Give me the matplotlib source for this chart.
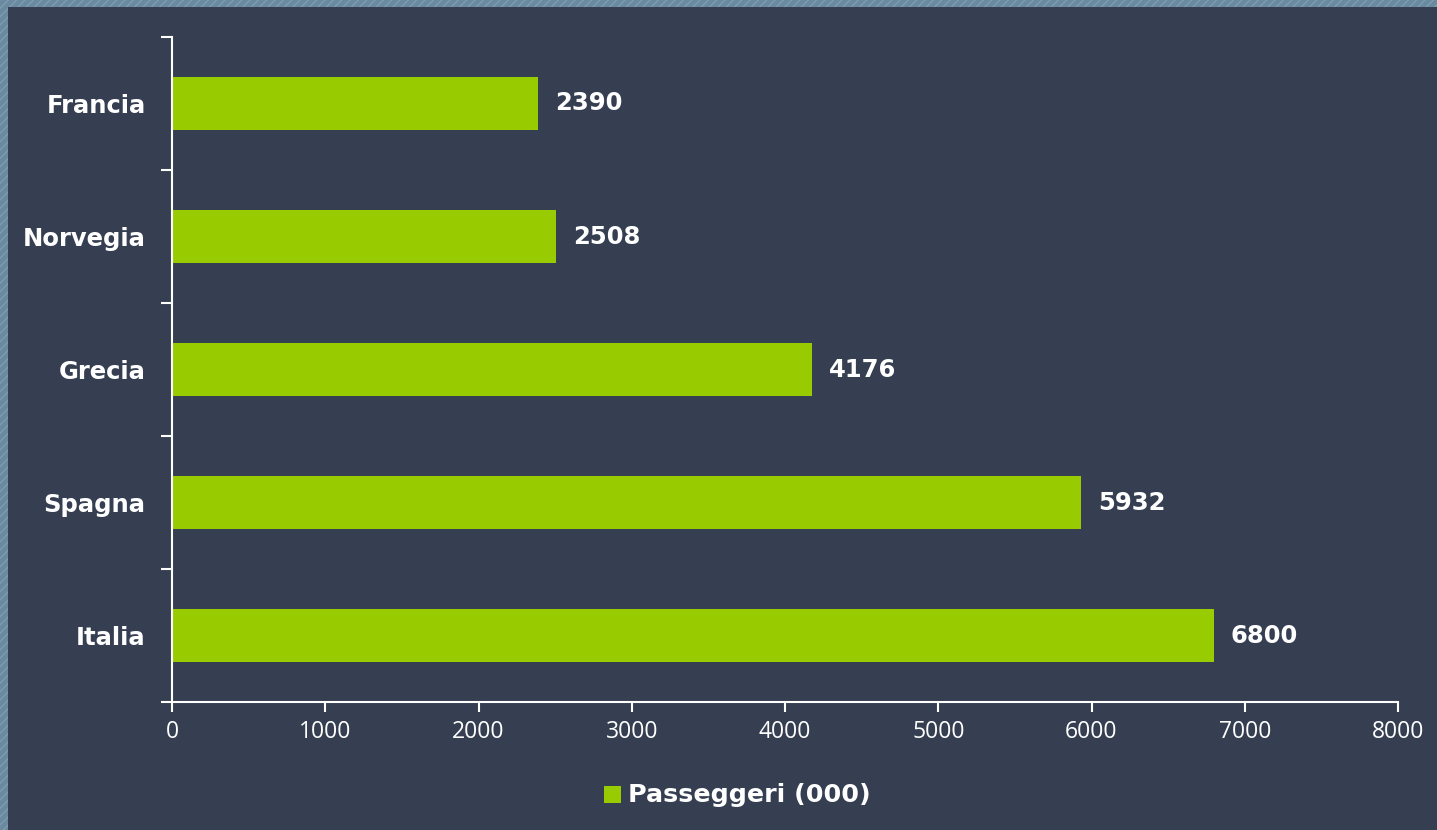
import matplotlib.pyplot as plt
from matplotlib.patches import Rectangle
from matplotlib.ticker import FixedLocator

# dati: passeggeri (migliaia) per paese
paesi = ['Italia', 'Spagna', 'Grecia', 'Norvegia', 'Francia']
passeggeri = [6800, 5932, 4176, 2508, 2390]
xticks = [0, 1000, 2000, 3000, 4000, 5000, 6000, 7000, 8000]

sfondo = '#353F51'
verde = '#99CC00'

fig = plt.figure(figsize=(14.37, 8.30), dpi=100)
fig.patch.set_facecolor('#6A8AA0')

# cornice a righe diagonali e pannello scuro
fig.patches.append(Rectangle((0, 0), 1, 1, transform=fig.transFigure,
                             facecolor='#6A8AA0', edgecolor='#7E9CB1',
                             hatch='////', linewidth=0, zorder=-3))
fig.patches.append(Rectangle((8 / 1437, 0), 1, 1 - 7 / 830, transform=fig.transFigure,
                             facecolor=sfondo, edgecolor='none', zorder=-2))

ax = fig.add_axes([172 / 1437, 1 - 702 / 830, 1226 / 1437, 665 / 830])
ax.set_facecolor('none')

pos = list(range(len(paesi)))
ax.barh(pos, passeggeri, height=0.4, color=verde, zorder=2)

# etichette dei valori
for p, v in zip(pos, passeggeri):
    ax.annotate(str(v), (v, p), xytext=(12, 0), textcoords='offset points',
                ha='left', va='center', color='white', fontsize=17.5,
                fontweight='bold', family='DejaVu Sans')

ax.set_xlim(0, 8000)
ax.set_ylim(-0.5, len(paesi) - 0.5)
ax.set_xticks(xticks)
ax.set_xticklabels([str(t) for t in xticks], family='Open Sans', fontsize=16.5, color='white')

# tacche tra le categorie, nomi al centro
ax.yaxis.set_major_locator(FixedLocator([i - 0.5 for i in range(len(paesi) + 1)]))
ax.yaxis.set_major_formatter(plt.NullFormatter())
ax.yaxis.set_minor_locator(FixedLocator(pos))
ax.set_yticklabels(paesi, minor=True, color='white', fontsize=17.5,
                   fontweight='bold', family='DejaVu Sans')
ax.tick_params(axis='y', which='minor', length=0, pad=19)
ax.tick_params(axis='y', which='major', length=8, width=1.5, color='white')
ax.tick_params(axis='x', length=7, width=1.5, color='white', pad=6)

for s in ['top', 'right']:
    ax.spines[s].set_visible(False)
for s in ['left', 'bottom']:
    ax.spines[s].set_color('white')
    ax.spines[s].set_linewidth(1.5)

# legenda
fig.patches.append(Rectangle((604 / 1437, 1 - 803 / 830), 17 / 1437, 17 / 830,
                             transform=fig.transFigure, facecolor=verde, edgecolor='none'))
fig.text(628 / 1437, 1 - 795 / 830, 'Passeggeri (000)', color='white', fontsize=18.3,
         fontweight='bold', family='DejaVu Sans', va='center', ha='left')

fig.savefig('out.png', dpi=100, facecolor=fig.get_facecolor())
